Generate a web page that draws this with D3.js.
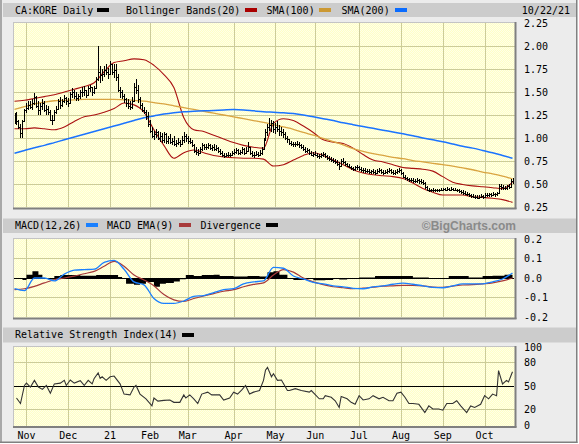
<!DOCTYPE html>
<html><head><meta charset="utf-8">
<script src="https://cdn.jsdelivr.net/npm/d3@7"></script>
<style>
body{margin:0;background:#fff}
svg{display:block}
text{font-family:"DejaVu Sans Mono",monospace;font-size:10px;fill:#000}
</style>
</head><body>
<svg id="c" width="579" height="444"></svg>
<script>
// ---------- DATA ----------
const START = "2020-10-23", END = "2021-10-22";
const HOLIDAYS = ["2020-12-25","2020-12-28","2021-01-01","2021-02-15","2021-04-02","2021-05-24","2021-07-01","2021-08-02","2021-09-06","2021-10-11"];
const MONTH_LABELS = ["Nov","Dec","21","Feb","Mar","Apr","May","Jun","Jul","Aug","Sep","Oct"];
const PRICE_TICKS = [2.25,2.00,1.75,1.50,1.25,1.00,0.75,0.50,0.25];
const PRICE_TICK_LABELS = ["2.25","2.00","1.75","1.50","1.25","1.00","0.75","0.50","0.25"];
const MACD_TICKS = [0.2,0.1,0.0,-0.1,-0.2];
const MACD_TICK_LABELS = ["0.2","0.1","0.0","-0.1","-0.2"];
const RSI_TICKS = [100,80,50,20,0];
const RSI_TICK_LABELS = ["100","80","50","20","0"];

// daily bars (one per session)
const high = [
1.27,1.28,1.20,1.15,1.20,1.32,1.38,1.40,1.40,1.42,
1.49,1.46,1.40,1.38,1.42,1.40,1.36,1.35,1.30,1.25,
1.30,1.35,1.42,1.45,1.42,1.47,1.45,1.44,1.50,1.54,
1.52,1.50,1.48,1.52,1.55,1.56,1.52,1.56,1.58,1.55,
1.56,1.66,2.00,1.78,1.75,1.78,1.80,1.76,1.84,1.80,
1.80,1.80,1.70,1.55,1.52,1.48,1.44,1.42,1.40,1.45,
1.60,1.64,1.58,1.45,1.38,1.34,1.30,1.28,1.20,1.12,
1.08,1.10,1.08,1.07,1.05,1.06,1.05,1.02,1.04,1.00,
1.02,0.98,1.00,0.98,1.02,1.06,1.04,1.02,1.00,0.98,
0.93,0.90,0.88,0.90,0.95,0.94,0.93,0.95,0.94,0.92,
0.93,0.92,0.90,0.88,0.86,0.84,0.84,0.85,0.84,0.86,
0.88,0.89,0.88,0.87,0.90,0.89,0.90,0.96,0.90,0.86,
0.85,0.86,0.85,0.87,0.90,1.00,1.10,1.15,1.22,1.20,
1.18,1.16,1.18,1.14,1.12,1.10,1.06,1.02,0.98,0.97,
0.96,0.96,0.97,0.96,0.94,0.92,0.90,0.89,0.88,0.86,
0.85,0.86,0.84,0.83,0.84,0.85,0.84,0.82,0.80,0.79,
0.78,0.77,0.76,0.74,0.77,0.78,0.75,0.73,0.72,0.70,
0.69,0.70,0.71,0.70,0.68,0.67,0.67,0.66,0.66,0.65,
0.66,0.65,0.66,0.67,0.66,0.65,0.65,0.66,0.67,0.66,
0.65,0.65,0.66,0.67,0.66,0.63,0.60,0.58,0.57,0.56,
0.56,0.55,0.56,0.55,0.55,0.54,0.52,0.48,0.46,0.45,
0.46,0.45,0.45,0.45,0.46,0.46,0.46,0.47,0.46,0.47,
0.46,0.46,0.45,0.45,0.44,0.43,0.42,0.41,0.40,0.39,
0.39,0.38,0.38,0.38,0.39,0.38,0.40,0.40,0.40,0.40,
0.41,0.40,0.41,0.50,0.50,0.49,0.48,0.49,0.50,0.55,0.56];
const low = [
1.15,1.14,1.10,1.00,1.00,1.18,1.27,1.30,1.32,1.30,
1.36,1.33,1.25,1.25,1.30,1.28,1.25,1.25,1.18,1.14,
1.18,1.26,1.30,1.32,1.34,1.38,1.36,1.34,1.38,1.44,
1.42,1.40,1.40,1.42,1.45,1.46,1.44,1.46,1.50,1.46,
1.48,1.54,1.62,1.60,1.62,1.66,1.68,1.64,1.70,1.68,
1.65,1.62,1.50,1.44,1.42,1.38,1.34,1.32,1.30,1.32,
1.40,1.48,1.38,1.32,1.28,1.26,1.20,1.12,1.05,1.00,
0.98,1.00,0.98,0.96,0.95,0.95,0.94,0.93,0.94,0.92,
0.91,0.90,0.92,0.90,0.92,0.95,0.96,0.94,0.93,0.90,
0.84,0.82,0.80,0.83,0.86,0.87,0.87,0.88,0.87,0.86,
0.86,0.86,0.84,0.82,0.79,0.78,0.79,0.79,0.79,0.80,
0.82,0.83,0.82,0.81,0.83,0.82,0.83,0.85,0.82,0.79,
0.78,0.80,0.79,0.80,0.82,0.88,0.97,1.02,1.08,1.06,
1.05,1.04,1.06,1.02,1.02,1.00,0.98,0.95,0.92,0.91,
0.90,0.90,0.91,0.89,0.88,0.86,0.84,0.84,0.82,0.80,
0.79,0.80,0.78,0.77,0.78,0.79,0.78,0.76,0.75,0.74,
0.73,0.72,0.70,0.65,0.70,0.72,0.70,0.68,0.67,0.65,
0.64,0.64,0.65,0.64,0.63,0.62,0.62,0.62,0.61,0.61,
0.61,0.60,0.61,0.62,0.61,0.60,0.61,0.61,0.62,0.61,
0.60,0.60,0.61,0.62,0.60,0.57,0.54,0.53,0.52,0.52,
0.51,0.51,0.51,0.50,0.50,0.49,0.45,0.42,0.41,0.41,
0.41,0.41,0.41,0.41,0.42,0.42,0.42,0.42,0.42,0.43,
0.42,0.42,0.41,0.40,0.39,0.38,0.38,0.37,0.36,0.35,
0.35,0.34,0.34,0.34,0.35,0.34,0.35,0.36,0.36,0.36,
0.37,0.36,0.37,0.39,0.44,0.44,0.43,0.44,0.45,0.46,0.50];
const close = [
1.22,1.18,1.12,1.05,1.18,1.30,1.33,1.36,1.34,1.38,
1.45,1.35,1.30,1.35,1.38,1.30,1.32,1.28,1.20,1.20,
1.28,1.32,1.40,1.36,1.40,1.44,1.40,1.38,1.48,1.50,
1.46,1.44,1.46,1.50,1.50,1.52,1.47,1.54,1.55,1.50,
1.54,1.64,1.72,1.68,1.70,1.74,1.72,1.70,1.80,1.72,
1.74,1.66,1.52,1.50,1.46,1.42,1.38,1.35,1.34,1.40,
1.55,1.52,1.42,1.36,1.30,1.28,1.24,1.15,1.08,1.02,
1.04,1.06,1.00,1.02,0.98,1.04,0.97,1.00,0.96,0.97,
0.94,0.95,0.96,0.93,0.98,1.02,1.00,0.97,0.96,0.92,
0.86,0.85,0.84,0.88,0.92,0.90,0.90,0.92,0.89,0.90,
0.88,0.89,0.86,0.84,0.82,0.80,0.82,0.81,0.82,0.84,
0.85,0.87,0.84,0.85,0.88,0.84,0.86,0.90,0.84,0.81,
0.82,0.83,0.82,0.84,0.88,0.98,1.06,1.12,1.14,1.16,
1.10,1.12,1.10,1.08,1.06,1.04,1.00,0.99,0.95,0.94,
0.93,0.94,0.93,0.92,0.90,0.88,0.86,0.87,0.84,0.82,
0.83,0.82,0.80,0.80,0.82,0.83,0.80,0.78,0.77,0.76,
0.75,0.74,0.72,0.70,0.75,0.74,0.72,0.70,0.69,0.67,
0.66,0.68,0.69,0.66,0.65,0.65,0.64,0.64,0.63,0.64,
0.63,0.62,0.64,0.65,0.63,0.62,0.63,0.64,0.65,0.63,
0.62,0.63,0.64,0.65,0.62,0.58,0.56,0.55,0.54,0.54,
0.53,0.53,0.54,0.53,0.52,0.51,0.47,0.44,0.43,0.43,
0.44,0.43,0.43,0.44,0.44,0.45,0.44,0.45,0.44,0.45,
0.44,0.44,0.43,0.42,0.41,0.40,0.39,0.39,0.38,0.37,
0.36,0.36,0.35,0.36,0.37,0.36,0.38,0.38,0.39,0.38,
0.39,0.39,0.40,0.48,0.47,0.46,0.46,0.48,0.47,0.53,0.54];

// overlays, one value every 5 sessions
const bbUpper = [1.40,1.41,1.43,1.45,1.47,1.50,1.53,1.56,1.60,1.72,1.82,1.84,1.86,1.85,1.79,1.69,1.55,1.22,1.09,1.07,1.03,0.99,0.95,0.92,0.90,0.89,1.16,1.21,1.19,1.13,1.06,0.98,0.955,0.94,0.89,0.82,0.76,0.74,0.71,0.68,0.67,0.66,0.64,0.58,0.52,0.495,0.48,0.47,0.46,0.45,0.52];
const bbLower = [1.10,1.10,1.11,1.10,1.09,1.12,1.18,1.23,1.25,1.28,1.32,1.38,1.36,1.28,1.09,0.92,0.78,0.84,0.87,0.84,0.81,0.795,0.785,0.78,0.78,0.77,0.695,0.71,0.76,0.81,0.84,0.81,0.76,0.71,0.655,0.62,0.60,0.59,0.58,0.56,0.51,0.45,0.41,0.38,0.38,0.38,0.36,0.355,0.345,0.33,0.30];
const sma100 = [1.31,1.34,1.37,1.39,1.405,1.41,1.415,1.42,1.42,1.42,1.42,1.415,1.41,1.40,1.385,1.37,1.35,1.33,1.31,1.29,1.27,1.25,1.23,1.21,1.19,1.17,1.145,1.12,1.095,1.06,1.03,0.995,0.96,0.925,0.885,0.855,0.83,0.81,0.79,0.775,0.755,0.74,0.725,0.71,0.695,0.675,0.655,0.63,0.61,0.585,0.555];
const sma200 = [0.835,0.865,0.895,0.92,0.95,0.98,1.01,1.04,1.07,1.10,1.13,1.16,1.19,1.22,1.24,1.26,1.275,1.285,1.29,1.295,1.30,1.305,1.31,1.305,1.295,1.285,1.28,1.275,1.265,1.25,1.23,1.21,1.19,1.165,1.145,1.125,1.105,1.085,1.065,1.045,1.025,1.00,0.98,0.96,0.935,0.91,0.89,0.865,0.84,0.81,0.78];
const macd = [-0.055,-0.065,0.0,0.0,-0.015,0.02,0.04,0.043,0.045,0.08,0.09,0.045,-0.02,-0.035,-0.105,-0.13,-0.13,-0.118,-0.094,-0.09,-0.075,-0.06,-0.055,-0.03,-0.02,-0.015,0.055,0.05,0.01,-0.005,-0.022,-0.03,-0.04,-0.045,-0.053,-0.055,-0.046,-0.04,-0.032,-0.026,-0.032,-0.04,-0.048,-0.05,-0.04,-0.03,-0.03,-0.03,-0.02,-0.005,0.026];
const macdEma = [-0.06,-0.055,-0.043,-0.025,-0.009,0.0,0.01,0.022,0.034,0.06,0.085,0.06,0.015,-0.01,-0.04,-0.085,-0.112,-0.12,-0.105,-0.092,-0.08,-0.068,-0.06,-0.045,-0.033,-0.025,0.015,0.043,0.03,0.0,-0.02,-0.034,-0.045,-0.05,-0.055,-0.052,-0.047,-0.042,-0.04,-0.038,-0.038,-0.04,-0.047,-0.048,-0.042,-0.036,-0.034,-0.03,-0.025,-0.015,0.0];
// [session, value]
const divergence = [[0,-0.005],[4,-0.01],[6,0.017],[9,0.034],[12,0.017],[14,0.0],[17,-0.008],[20,0.01],[23,0.015],[28,0.015],[33,0.012],[38,0.012],[41,0.015],[44,0.015],[49,0.015],[52,0.005],[54,-0.005],[56,-0.03],[60,-0.035],[63,-0.03],[66,-0.02],[70,-0.045],[73,-0.03],[76,-0.025],[80,-0.018],[83,-0.006],[86,0.015],[90,0.01],[94,0.015],[100,0.017],[103,0.01],[110,0.008],[117,0.01],[123,0.008],[127,0.03],[130,0.034],[133,0.017],[137,-0.005],[140,-0.01],[146,-0.005],[150,-0.012],[156,-0.01],[160,-0.003],[163,-0.008],[167,0.0],[173,0.003],[181,0.01],[188,0.01],[196,0.01],[200,0.003],[208,0.0],[213,-0.002],[218,0.01],[223,0.01],[228,0.002],[235,0.01],[240,0.012],[246,0.017],[250,0.026]];
const rsi = [[1,35],[3,28],[5,51],[6,54],[8,49],[10,57.5],[12,49],[14,46],[16,51],[18,41],[20,53],[23,54],[25,57.5],[26,51],[28,58],[30,54],[33,57],[35,51],[37,57.5],[39,53],[40,60],[42,67],[43,60],[44,62],[46,57.5],[48,62],[50,63],[53,53],[55,40],[58,39],[60,49],[61,51],[63,40],[66,34],[69,25],[70,35],[72,31],[75,32],[78,32.5],[80,29.5],[83,29.5],[85,39],[86,35],[88,39],[90,34],[92,28],[94,40],[97,42.5],[99,39],[103,39],[105,32.5],[108,35],[110,42.5],[112,40],[114,45],[116,51],[118,40],[120,42.5],[123,44.5],[125,57.5],[126,70.5],[127,74],[129,62],[130,66],[132,57.5],[134,58],[137,44.5],[138,44.5],[141,47],[144,44.5],[148,42.5],[149,44.5],[153,34],[155,34],[156,38],[159,36],[161,31.5],[163,23],[164,37],[167,34],[169,29.5],[171,27],[173,38],[175,32.5],[178,34],[180,38],[183,34],[185,36],[188,31.5],[190,31.5],[192,41],[194,42.5],[196,36],[198,28],[200,28],[203,27],[206,16.5],[208,25],[210,21],[213,21],[215,19.5],[217,28],[220,28],[222,31.5],[224,25],[227,16.5],[229,25],[231,23],[234,27],[236,38],[238,34],[240,40],[242,38],[243,70],[245,53],[247,57.5],[248,55.5],[250,68.5]];

// ---------- CALENDAR ----------
const hol = new Set(HOLIDAYS);
const sessions = [];
for (let d = new Date(START + "T00:00:00Z"); d <= new Date(END + "T00:00:00Z"); d.setUTCDate(d.getUTCDate() + 1)) {
  const wd = d.getUTCDay(), iso = d.toISOString().slice(0, 10);
  if (wd !== 0 && wd !== 6 && !hol.has(iso)) sessions.push(new Date(d));
}
const monthTicks = [];
sessions.forEach((d, i) => { if (i > 0 && d.getUTCMonth() !== sessions[i - 1].getUTCMonth()) monthTicks.push(i); });

// ---------- LAYOUT ----------
const svg = d3.select("#c");
const L = 14, R = 514;
const P = {top: 23, bottom: 207}, M = {top: 239, bottom: 317}, S = {top: 347, bottom: 425.5};
const x = d3.scaleLinear().domain([0, sessions.length - 1]).range([14.5, 512.5]);
const yP = d3.scaleLinear().domain([0.25, 2.25]).range([P.bottom, P.top]);
const yM = d3.scaleLinear().domain([-0.2, 0.2]).range([M.bottom, M.top]);
const yR = d3.scaleLinear().domain([0, 100]).range([S.bottom, S.top]);
const px = v => Math.round(v) + 0.5;

const defs = svg.append("defs");
const pat = defs.append("pattern").attr("id", "bg").attr("width", 2).attr("height", 2).attr("patternUnits", "userSpaceOnUse");
pat.append("rect").attr("width", 2).attr("height", 2).attr("fill", "#ffffc6");
pat.append("rect").attr("width", 1).attr("height", 1).attr("fill", "#ffffe8");
pat.append("rect").attr("x", 1).attr("y", 1).attr("width", 1).attr("height", 1).attr("fill", "#ffffe8");

// outer frame
svg.append("rect").attr("x", 0).attr("y", 0).attr("width", 577).attr("height", 442).attr("fill", "#ececec");
svg.append("rect").attr("x", 0).attr("y", 0).attr("width", 2).attr("height", 442).attr("fill", "#a8a8a8");
svg.append("rect").attr("x", 576).attr("y", 0).attr("width", 1.5).attr("height", 443).attr("fill", "#808080");
svg.append("rect").attr("x", 0).attr("y", 441.5).attr("width", 577.5).attr("height", 1.5).attr("fill", "#808080");

// title bars
[[3, 17], [218.5, 233], [327.5, 342.5]].forEach(([a, b]) =>
  svg.append("rect").attr("x", 3).attr("y", a).attr("width", 573).attr("height", b - a).attr("fill", "#cccccc"));

function panel(p, id) {
  defs.append("clipPath").attr("id", id).append("rect").attr("x", L).attr("y", p.top).attr("width", R - L).attr("height", p.bottom - p.top);
  svg.append("rect").attr("x", L).attr("y", p.top).attr("width", R - L + 1).attr("height", p.bottom - p.top + 1).attr("fill", "url(#bg)");
  monthTicks.forEach(i => svg.append("line").attr("x1", px(x(i))).attr("x2", px(x(i))).attr("y1", p.top).attr("y2", p.bottom)
    .attr("stroke", "#cccc99").attr("stroke-width", 1).attr("shape-rendering", "crispEdges"));
}
function frame(p) {
  svg.append("line").attr("x1", L).attr("x2", R + 1).attr("y1", p.top - 0.5).attr("y2", p.top - 0.5).attr("stroke", "#c4c4c4");
  svg.append("line").attr("x1", L - 0.5).attr("x2", L - 0.5).attr("y1", p.top - 1).attr("y2", p.bottom + 1).attr("stroke", "#c4c4c4");
  svg.append("rect").attr("x", R + 0.5).attr("y", p.top - 1).attr("width", 2).attr("height", p.bottom - p.top + 3).attr("fill", "#808080");
  svg.append("rect").attr("x", L - 1).attr("y", p.bottom + 0.5).attr("width", R - L + 3.5).attr("height", 2).attr("fill", "#808080");
}
function hgrid(vals, scale, p, color) {
  vals.forEach(v => svg.append("line").attr("x1", L).attr("x2", R + 1).attr("y1", px(scale(v) - 0.5)).attr("y2", px(scale(v) - 0.5))
    .attr("stroke", color).attr("stroke-width", 1).attr("shape-rendering", "crispEdges"));
}
function yLabels(vals, labels, scale) {
  vals.forEach((v, k) => svg.append("text").attr("x", 524).attr("y", scale(v)).attr("dy", "0.36em").text(labels[k]));
}
function legend(items, y, sy) {
  items.forEach(it => {
    if (it.t) svg.append("text").attr("x", it.x).attr("y", y).text(it.t);
    if (it.c) svg.append("rect").attr("x", it.sx).attr("y", sy).attr("width", 12).attr("height", 4).attr("fill", it.c);
  });
}

// ---------- PRICE PANEL ----------
panel(P, "cp");
hgrid(PRICE_TICKS.slice(1, -1), yP, P, "#cccc99");
const gP = svg.append("g").attr("clip-path", "url(#cp)");
const wk = (arr, ys) => d3.line().x((d, k) => x(5 * k)).y(d => ys(d)).curve(d3.curveMonotoneX)(arr);
gP.append("path").attr("d", wk(bbUpper, yP)).attr("fill", "none").attr("stroke", "#aa1111").attr("stroke-width", 1.1);
gP.append("path").attr("d", wk(bbLower, yP)).attr("fill", "none").attr("stroke", "#aa1111").attr("stroke-width", 1.1);
gP.append("path").attr("d", wk(sma100, yP)).attr("fill", "none").attr("stroke", "#d9a441").attr("stroke-width", 1.3);
gP.append("path").attr("d", wk(sma200, yP)).attr("fill", "none").attr("stroke", "#1a73ff").attr("stroke-width", 1.5);
const bars = gP.append("g").attr("stroke", "#000").attr("stroke-width", 1).attr("shape-rendering", "crispEdges");
close.forEach((c, i) => {
  const xx = px(x(i));
  bars.append("line").attr("x1", xx).attr("x2", xx).attr("y1", Math.round(yP(low[i]))).attr("y2", Math.round(yP(high[i])));
  bars.append("line").attr("x1", xx).attr("x2", xx + 1.5).attr("y1", px(yP(c))).attr("y2", px(yP(c)));
  if (i > 0) bars.append("line").attr("x1", xx - 1.5).attr("x2", xx).attr("y1", px(yP(close[i - 1]))).attr("y2", px(yP(close[i - 1])));
});
frame(P);
yLabels(PRICE_TICKS, PRICE_TICK_LABELS, yP);
legend([
  {t: "CA:KORE Daily", x: 15, sx: 97, c: "#000"},
  {t: "Bollinger Bands(20)", x: 126, sx: 245, c: "#aa0000"},
  {t: "SMA(100)", x: 266.5, sx: 319, c: "#cc9933"},
  {t: "SMA(200)", x: 341.5, sx: 395, c: "#0a6cff"}
], 13.5, 8);
svg.append("text").attr("x", 570).attr("y", 13.5).attr("text-anchor", "end").text("10/22/21");

// ---------- MACD PANEL ----------
panel(M, "cm");
hgrid([0.1, -0.1], yM, M, "#cccc99");
const gM = svg.append("g").attr("clip-path", "url(#cm)");
gM.append("path").attr("d", d3.area().x(d => x(d[0])).y0(yM(0)).y1(d => yM(d[1])).curve(d3.curveStepAfter)(divergence))
  .attr("fill", "#000");
gM.append("line").attr("x1", L).attr("x2", R).attr("y1", px(yM(0) - 0.5)).attr("y2", px(yM(0) - 0.5)).attr("stroke", "#000").attr("stroke-width", 1.2);
gM.append("path").attr("d", wk(macdEma, yM)).attr("fill", "none").attr("stroke", "#a83a3a").attr("stroke-width", 1.2);
gM.append("path").attr("d", wk(macd, yM)).attr("fill", "none").attr("stroke", "#1a80ff").attr("stroke-width", 1.3);
frame(M);
yLabels(MACD_TICKS, MACD_TICK_LABELS, yM);
legend([
  {t: "MACD(12,26)", x: 15, sx: 86, c: "#1a80ff"},
  {t: "MACD EMA(9)", x: 107, sx: 179, c: "#a83a3a"},
  {t: "Divergence", x: 200.5, sx: 266, c: "#000"}
], 229, 223);
svg.append("text").attr("x", 516).attr("y", 229.5).attr("text-anchor", "end")
  .style("font-family", "'Liberation Sans',Arial,sans-serif").style("font-size", "12px").style("font-weight", "bold")
  .style("fill", "#8a8a8a").text("©BigCharts.com");

// ---------- RSI PANEL ----------
panel(S, "cr");
hgrid([80, 20], yR, S, "#cccc99");
const gR = svg.append("g").attr("clip-path", "url(#cr)");
gR.append("line").attr("x1", L).attr("x2", R).attr("y1", px(yR(50) - 0.5)).attr("y2", px(yR(50) - 0.5)).attr("stroke", "#000").attr("stroke-width", 1.2);
gR.append("path").attr("d", d3.line().x(d => x(d[0])).y(d => yR(d[1]))(rsi)).attr("fill", "none").attr("stroke", "#333").attr("stroke-width", 1.1);
frame(S);
yLabels(RSI_TICKS, RSI_TICK_LABELS, yR);
legend([{t: "Relative Strength Index(14)", x: 15, sx: 182, c: "#000"}], 338, 333);

// month labels
monthTicks.forEach((i, k) => svg.append("text").attr("x", x(i)).attr("y", 438.5).attr("text-anchor", "middle").text(MONTH_LABELS[k]));
</script>
</body></html>
